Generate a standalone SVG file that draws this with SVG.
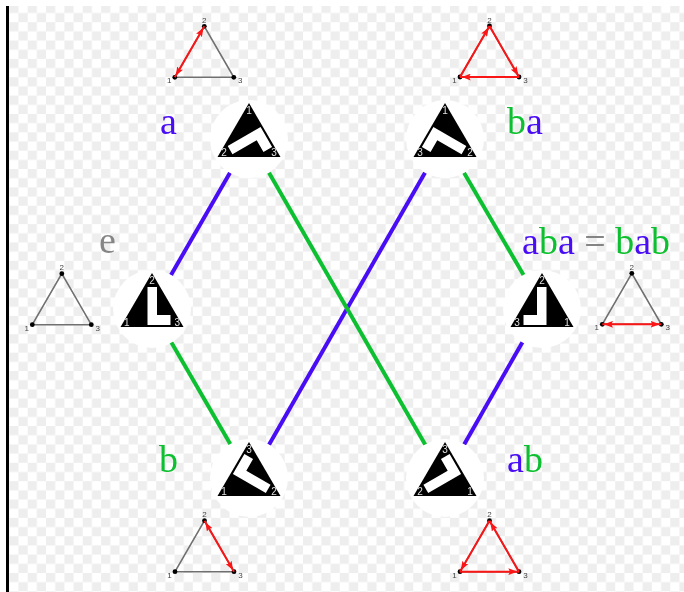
<svg xmlns="http://www.w3.org/2000/svg" width="684" height="592" viewBox="0 0 684 592">
<style>
.c{stroke-width:4;fill:none}
.bl{stroke:#4a0cf5}
.gr{stroke:#10c030}
.tb{fill:#4a0cf5}
.tg{fill:#10c030}
.tx{fill:#858585}
.big{font-family:"Liberation Serif",serif;font-size:38px}
.halo{fill:#fff}
.tri{fill:#000}
.L{fill:#fff}
.d{font-family:"Liberation Sans",sans-serif;font-size:10px;fill:#e0e0e0;text-anchor:middle}
.e{fill:none;stroke:#707070;stroke-width:1.6}
.r{fill:none;stroke:#fa1414;stroke-width:2}
.v{fill:#000}
.n{font-family:"Liberation Sans",sans-serif;font-size:8px;fill:#444;text-anchor:middle}
</style>
<defs>
<filter id="soft" x="0" y="0" width="100%" height="100%" filterUnits="objectBoundingBox"><feGaussianBlur stdDeviation="0.45"/></filter>
<pattern id="chk" x="9.3" y="3.8" width="18.36" height="18.36" patternUnits="userSpaceOnUse">
<rect width="9.18" height="9.18" fill="#eeeeee"/><rect x="9.18" y="9.18" width="9.18" height="9.18" fill="#eeeeee"/>
</pattern>
<marker id="ah" viewBox="0 0 8 6" refX="9.5" refY="3" markerWidth="9" markerHeight="7" markerUnits="userSpaceOnUse" orient="auto-start-reverse"><path d="M0 0L8 3L0 6L1.5 3Z" fill="#fa1414"/></marker>
<g id="base"><circle r="39" class="halo"/><path d="M0-36L31.5 18H-31.5Z" class="tri"/></g>
<path id="L" class="L" d="M-4.5-22H5V6H18.5V16H-4.5Z"/>
<g id="small">
<path class="e" d="M0 51L29.5 0L59 51Z"/>
<circle class="v" cx="0" cy="51" r="2.4"/><circle class="v" cx="29.5" cy="0" r="2.4"/><circle class="v" cx="59" cy="51" r="2.4"/>
<text class="n" x="-5.5" y="57">1</text><text class="n" x="29.5" y="-3.5">2</text><text class="n" x="65.5" y="57">3</text>
</g>
</defs>
<rect width="684" height="592" fill="#fff"/>
<g filter="url(#soft)">
<rect x="9" y="6" width="675" height="586" fill="url(#chk)"/>
<rect x="6" y="6" width="3" height="586" fill="#000"/>

<g id="connectors">
<line class="c bl" x1="171" y1="275" x2="230" y2="172.7"/>
<line class="c gr" x1="171" y1="341.7" x2="230.7" y2="444.7"/>
<line class="c bl" x1="425" y1="172.7" x2="269" y2="444.7"/>
<line class="c gr" x1="269" y1="172.7" x2="425.3" y2="444.7"/>
<line class="c gr" x1="464" y1="172.7" x2="524" y2="275.7"/>
<line class="c bl" x1="522.7" y1="341.7" x2="464" y2="444.7"/>
</g>

<g id="node-e">
<use href="#base" transform="translate(152,309)"/><use href="#L" transform="translate(152,309)"/>
<text class="d" x="152" y="283.5">2</text><text class="d" x="126.7" y="326">1</text><text class="d" x="177.3" y="326">3</text>
<text class="big tx" x="99" y="253">e</text>
<use href="#small" transform="translate(32.3,273.7)"/>
</g>
<g id="node-a">
<use href="#base" transform="translate(249,139)"/><use href="#L" transform="translate(249,139) matrix(.5 .866 .866 -.5 0 0)"/>
<text class="d" x="249" y="114">1</text><text class="d" x="224" y="156">2</text><text class="d" x="274" y="156">3</text>
<text class="big tb" x="160" y="134">a</text>
<use href="#small" transform="translate(174.8,26.3)"/>
<line class="r" x1="174.8" y1="77.3" x2="204.3" y2="26.3" marker-start="url(#ah)" marker-end="url(#ah)"/>
</g>
<g id="node-ba">
<use href="#base" transform="translate(445,139)"/><use href="#L" transform="translate(445,139) rotate(120)"/>
<text class="d" x="445" y="114">1</text><text class="d" x="420" y="156">3</text><text class="d" x="470" y="156">2</text>
<text class="big" x="507" y="134"><tspan class="tg">b</tspan><tspan class="tb">a</tspan></text>
<use href="#small" transform="translate(460,26)"/>
<line class="r" x1="460" y1="77" x2="489.5" y2="26" marker-end="url(#ah)"/>
<line class="r" x1="489.5" y1="26" x2="519" y2="77" marker-end="url(#ah)"/>
<line class="r" x1="519" y1="77" x2="460" y2="77" marker-end="url(#ah)"/>
</g>
<g id="node-aba">
<use href="#base" transform="translate(542,309)"/><use href="#L" transform="translate(542,309) matrix(-1 0 0 1 0 0)"/>
<text class="d" x="542" y="283.5">2</text><text class="d" x="517" y="326">3</text><text class="d" x="567" y="326">1</text>
<text class="big" x="522" y="254"><tspan class="tb">a</tspan><tspan class="tg">b</tspan><tspan class="tb">a</tspan><tspan class="tx"> = </tspan><tspan class="tg">b</tspan><tspan class="tb">a</tspan><tspan class="tg">b</tspan></text>
<use href="#small" transform="translate(602.3,273.3)"/>
<line class="r" x1="602.3" y1="324.3" x2="661.3" y2="324.3" marker-start="url(#ah)" marker-end="url(#ah)"/>
</g>
<g id="node-b">
<use href="#base" transform="translate(249,478)"/><use href="#L" transform="translate(249,478) matrix(.5 -.866 -.866 -.5 0 0)"/>
<text class="d" x="249" y="453">3</text><text class="d" x="224" y="495">1</text><text class="d" x="274" y="495">2</text>
<text class="big tg" x="159" y="472">b</text>
<use href="#small" transform="translate(175,520.7)"/>
<line class="r" x1="204.5" y1="520.7" x2="234" y2="571.7" marker-start="url(#ah)" marker-end="url(#ah)"/>
</g>
<g id="node-ab">
<use href="#base" transform="translate(445,478)"/><use href="#L" transform="translate(445,478) rotate(-120)"/>
<text class="d" x="445" y="453">3</text><text class="d" x="420" y="495">2</text><text class="d" x="470" y="495">1</text>
<text class="big" x="507" y="472"><tspan class="tb">a</tspan><tspan class="tg">b</tspan></text>
<use href="#small" transform="translate(460,520.7)"/>
<line class="r" x1="460" y1="571.7" x2="519" y2="571.7" marker-end="url(#ah)"/>
<line class="r" x1="519" y1="571.7" x2="489.5" y2="520.7" marker-end="url(#ah)"/>
<line class="r" x1="489.5" y1="520.7" x2="460" y2="571.7" marker-end="url(#ah)"/>
</g>
</g>
</svg>
